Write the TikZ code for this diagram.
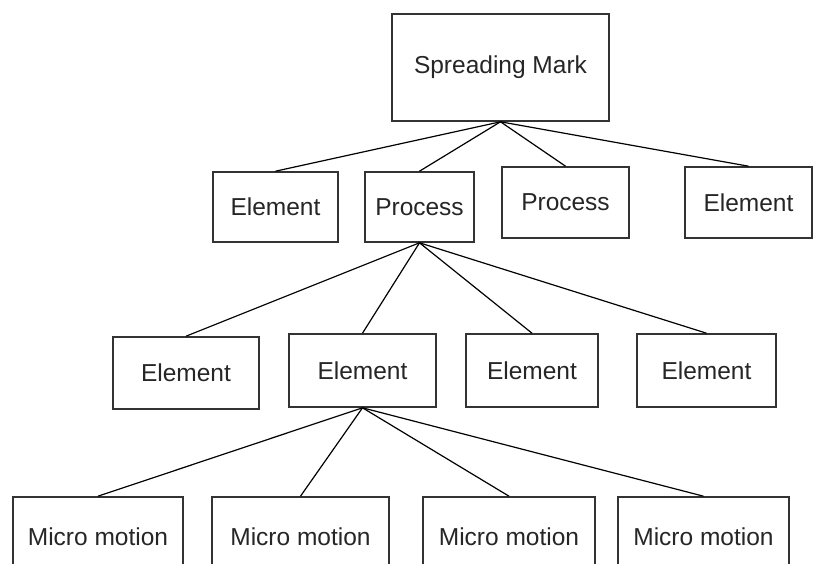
\documentclass[tikz,border=0pt]{standalone}
\usepackage{fontspec}
\setmainfont{Liberation Sans}
\begin{document}
\begin{tikzpicture}[x=1pt,y=-1pt,
  box/.style={draw=black!80,line width=1.6pt,fill=white,inner sep=0pt,
    font=\fontsize{24.5}{28}\selectfont,text=black!85},
  conn/.style={draw=black,line width=1.2pt}]
\useasboundingbox (0,0) rectangle (815,564);
\clip (0,0) rectangle (815,564);
\node[box,minimum width=217pt,minimum height=107pt] (root) at (500.5,67.5) {Spreading Mark};
\node[box,minimum width=125pt,minimum height=70pt] (e1) at (275.5,207) {Element};
\node[box,minimum width=109pt,minimum height=70pt] (p1) at (419.5,207) {Process};
\node[box,minimum width=127pt,minimum height=71pt] (p2) at (565.5,202.5) {Process};
\node[box,minimum width=127pt,minimum height=71pt] (e2) at (748.5,202.5) {Element};
\node[box,minimum width=146pt,minimum height=72pt] (la) at (186,373) {Element};
\node[box,minimum width=147pt,minimum height=73pt] (lb) at (362.5,370.5) {Element};
\node[box,minimum width=132pt,minimum height=73pt] (lc) at (532,370.5) {Element};
\node[box,minimum width=139pt,minimum height=73pt] (ld) at (706.5,370.5) {Element};
\node[box,minimum width=170pt,minimum height=80pt] (ma) at (98,537) {Micro motion};
\node[box,minimum width=177pt,minimum height=80pt] (mb) at (300.5,537) {Micro motion};
\node[box,minimum width=172pt,minimum height=80pt] (mc) at (509,537) {Micro motion};
\node[box,minimum width=171pt,minimum height=80pt] (md) at (703.5,537) {Micro motion};
\foreach \c in {e1,p1,p2,e2} \draw[conn] (root.south) -- (\c.north);
\foreach \c in {la,lb,lc,ld} \draw[conn] (p1.south) -- (\c.north);
\foreach \c in {ma,mb,mc,md} \draw[conn] (lb.south) -- (\c.north);
\end{tikzpicture}
\end{document}
